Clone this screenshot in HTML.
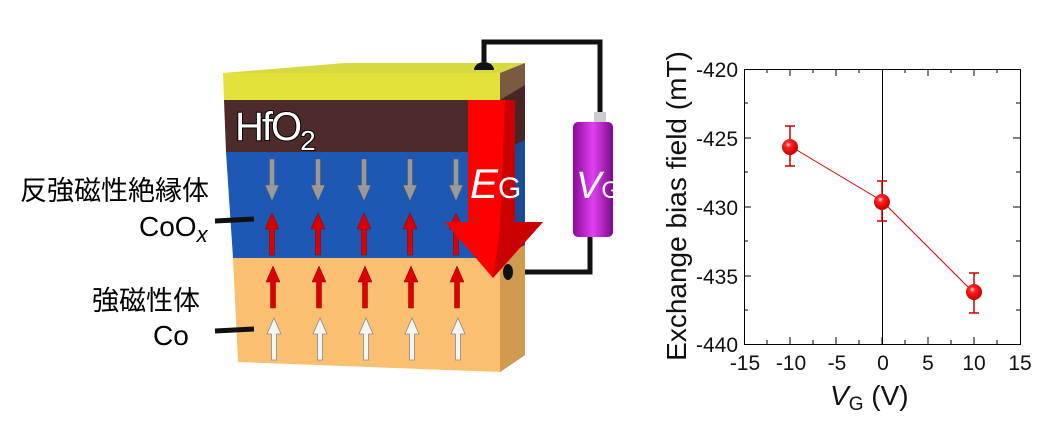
<!DOCTYPE html>
<html><head><meta charset="utf-8"><style>
body{margin:0;background:#fff;width:1064px;height:426px;overflow:hidden}
svg text{font-family:"Liberation Sans","Noto Sans CJK JP",sans-serif}
</style></head><body>
<svg width="1064" height="426" viewBox="0 0 1064 426" xmlns="http://www.w3.org/2000/svg">
<defs>
<radialGradient id="ball" cx="0.4" cy="0.35" r="0.6"><stop offset="0" stop-color="#fdd"/><stop offset="0.3" stop-color="#f22"/><stop offset="1" stop-color="#c00"/></radialGradient>
<linearGradient id="cyl" x1="0" x2="1"><stop offset="0" stop-color="#8a0a9a"/><stop offset="0.5" stop-color="#e040f0"/><stop offset="1" stop-color="#7a0a8a"/></linearGradient>
<g id="up"><polygon points="0,-21 -7,-5 -2.5,-5 -2.5,21 2.5,21 2.5,-5 7,-5"/></g>
<g id="dn"><polygon points="0,21 -7,5 -2.5,5 -2.5,-21 2.5,-21 2.5,5 7,5"/></g>
</defs>
<polyline points="484,62 484,42 600,42 600,120" fill="none" stroke="#111" stroke-width="5"/>
<polyline points="590,236 590,272 508,272" fill="none" stroke="#111" stroke-width="5"/>
<polygon points="223,73 345,63 525,63 500,73" fill="#d8d840"/>
<polygon points="500,73 525,63 525,355 500,372" fill="#7a5a40"/>
<polygon points="500,100 525,85 525,140 500,152" fill="#4a2525"/>
<polygon points="500,152 525,140 525,245 500,258" fill="#1a4a9a"/>
<polygon points="500,258 525,245 525,355 500,372" fill="#d09a50"/>
<polygon points="223,73 500,73 500,100 224,100" fill="#e2e23a"/>
<polygon points="224,100 500,100 500,152 226,152" fill="#4e2b2b"/>
<polygon points="226,152 500,152 500,258 233,258" fill="#1c58b4"/>
<polygon points="233,258 500,258 500,372 238,362" fill="#fbbf72"/>
<path d="M474,70 a10,8 0 0 1 20,0 z" fill="#111"/>
<ellipse cx="508" cy="272" rx="5" ry="8" fill="#111"/>
<text x="235" y="140" font-size="40" fill="#fff" stroke="#000" stroke-width="2" paint-order="stroke" letter-spacing="-2">HfO<tspan font-size="28" dy="10">2</tspan></text>
<g fill="#999" stroke="#555" stroke-width="0.5">
<use href="#dn" x="272" y="180"/><use href="#dn" x="318" y="180"/><use href="#dn" x="364" y="180"/><use href="#dn" x="410" y="180"/><use href="#dn" x="456" y="180"/></g>
<g fill="#d00" stroke="#800" stroke-width="0.5">
<use href="#up" x="272" y="234"/><use href="#up" x="318" y="234"/><use href="#up" x="364" y="234"/><use href="#up" x="410" y="234"/><use href="#up" x="456" y="234"/>
<use href="#up" x="273" y="287"/><use href="#up" x="319" y="287"/><use href="#up" x="365" y="287"/><use href="#up" x="411" y="287"/><use href="#up" x="457" y="287"/></g>
<g fill="#f4f4f4" stroke="#888" stroke-width="0.8">
<use href="#up" x="274" y="339"/><use href="#up" x="320" y="339"/><use href="#up" x="366" y="339"/><use href="#up" x="412" y="339"/><use href="#up" x="458" y="339"/></g>
<polygon points="468,100 515,100 515,222 543,222 493,278 445,222 468,222" fill="#f00"/>
<polygon points="505,100 515,100 515,222 543,222 493,278 500,228" fill="#c00"/>
<text x="470" y="198" font-size="42" font-style="italic" fill="#fff">E<tspan font-style="normal" font-size="30">G</tspan></text>
<rect x="594" y="112" width="12" height="12" fill="#ccc"/>
<rect x="573" y="122" width="40" height="115" rx="5" fill="url(#cyl)"/>
<text x="576" y="198" font-size="38" font-style="italic" fill="#fff">V<tspan font-style="normal" font-size="24">G</tspan></text>
<text x="20" y="200" font-size="27">反強磁性絶縁体</text>
<text x="139" y="236" font-size="28">CoO<tspan font-style="italic" font-size="22" dy="6">x</tspan></text>
<text x="92" y="310" font-size="27">強磁性体</text>
<text x="153" y="345" font-size="28">Co</text>
<line x1="215" y1="221" x2="254" y2="219" stroke="#111" stroke-width="5"/>
<line x1="215" y1="331" x2="254" y2="329" stroke="#111" stroke-width="5"/>
<g stroke="#000" stroke-width="1" fill="none">
<rect x="744.5" y="69.5" width="276" height="275"/>
<line x1="882.5" y1="69" x2="882.5" y2="344"/>
<path d="M767,344v-4M790,344v-7M813,344v-4M836,344v-7M859,344v-4M882,344v-7M905,344v-4M928,344v-7M951,344v-4M974,344v-7M997,344v-4
M767,69v4M790,69v7M813,69v4M836,69v7M859,69v4M905,69v4M928,69v7M951,69v4M974,69v7M997,69v4
M744,103h4M744,138h7M744,172h4M744,207h7M744,241h4M744,276h7M744,310h4
M1020,103h-4M1020,138h-7M1020,172h-4M1020,207h-7M1020,241h-4M1020,276h-7M1020,310h-4"/>
</g>
<polyline points="790,146 882,201 974,293" fill="none" stroke="#c00" stroke-width="1"/>
<g stroke="#c00" stroke-width="1.5">
<path d="M790,126v40M785,126h10M785,166h10M882,181v40M877,181h10M877,221h10M974,273v40M969,273h10M969,313h10"/>
</g>
<circle cx="790" cy="147" r="8" fill="url(#ball)"/>
<circle cx="882" cy="202" r="8" fill="url(#ball)"/>
<circle cx="974" cy="292" r="8" fill="url(#ball)"/>
<g font-size="21" text-anchor="end" fill="#111">
<text x="738" y="77">-420</text><text x="738" y="146">-425</text><text x="738" y="215">-430</text><text x="738" y="284">-435</text><text x="738" y="352">-440</text></g>
<g font-size="21" text-anchor="middle" fill="#111">
<text x="745" y="370">-15</text><text x="791" y="370">-10</text><text x="837" y="370">-5</text><text x="883" y="370">0</text><text x="928" y="370">5</text><text x="974" y="370">10</text><text x="1020" y="370">15</text></g>
<text x="830" y="405" font-size="28" font-style="italic" fill="#111">V<tspan font-style="normal" font-size="19" dy="5">G</tspan><tspan font-style="normal" font-size="28" dy="-5"> (V)</tspan></text>
<text transform="translate(686,206) rotate(-90)" font-size="28" text-anchor="middle" fill="#111">Exchange bias field (mT)</text>
</svg>
</body></html>
